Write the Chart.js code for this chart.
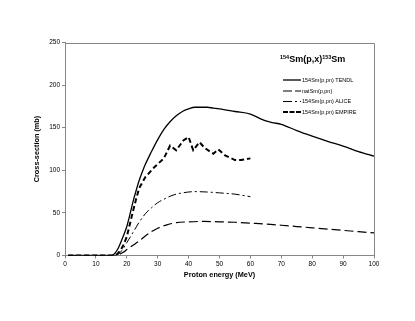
<!DOCTYPE html>
<html>
<head>
<meta charset="utf-8">
<script src="https://cdn.jsdelivr.net/npm/chart.js@4.4.1/dist/chart.umd.min.js"></script>
<style>
  html, body { margin: 0; padding: 0; background: #fff; }
  #c { display: block; }
</style>
</head>
<body>
<canvas id="c" width="415" height="321"></canvas>
<script>
// series (energy in MeV, cross-section in mb)
const tendlE = [1, 5, 10, 15, 16, 17, 18, 19, 20, 21, 22, 23, 24, 25, 26, 28, 30, 32, 34, 36, 38, 40, 42, 44, 46, 48, 50, 55, 60, 63, 65, 67, 70, 75, 80, 85, 90, 95, 100];
const tendlV = [0, 0, 0, 0, 2, 7, 15, 24, 34, 48, 63, 76, 88, 98, 107, 122, 136, 148, 157, 164, 169, 172, 174, 174, 174, 173, 172, 169, 166, 161, 158, 156, 154, 146.5, 140, 134, 128.5, 122, 116.5];

const natE = [1, 5, 10, 15, 16, 17, 18, 19, 20, 22, 24, 26, 28, 30, 33, 36, 40, 45, 50, 55, 60, 65, 70, 75, 80, 85, 90, 95, 100];
const natV = [0, 0, 0, 0, 0, 0.5, 2, 4, 7, 12, 17, 23, 28, 32, 36, 38.5, 39.5, 40, 39.5, 39, 38, 37, 35.5, 34, 32.5, 31, 29.5, 28, 26.5];

const aliceE = [1, 5, 10, 15, 16, 17, 18, 19, 20, 22, 24, 26, 28, 30, 32, 34, 36, 38, 42, 46, 50, 55, 60];
const aliceV = [0, 0, 0, 0, 0, 1, 4, 9, 15, 27, 39, 49, 56, 62, 66, 69.5, 72, 73.5, 75, 74.5, 73.5, 72, 69];

const empireE = [1, 5, 10, 15, 16, 17, 18, 19, 20, 21, 22, 23, 24, 26, 28, 29, 32, 34, 36, 38.3, 40, 41.5, 43.5, 45.3, 48, 49.6, 51.8, 55, 57, 60];
const empireV = [0, 0, 0, 0, 0, 2, 6, 13, 22, 37, 52, 66, 79, 92, 100, 104, 114, 129, 123.5, 135, 139, 123.5, 133, 126, 119.5, 124.5, 117.5, 112, 112, 114];

const seriesNames = ['154Sm(p,pn) TENDL', 'natSm(p,pn)', '154Sm(p,pn) ALICE', '154Sm(p,pn) EMPIRE'];
const xTicks = [0, 10, 20, 30, 40, 50, 60, 70, 80, 90, 100];
const yTicks = [0, 50, 100, 150, 200, 250];

function pts(xs, ys) {
    return xs.map((x, i) => ({ x: x, y: ys[i] }));
}

const FONT = "'Liberation Sans', Arial, sans-serif";
const AXIS = '#868686';

const extras = {
    id: 'extras',
    afterDraw(chart) {
        const ctx = chart.ctx;
        const a = chart.chartArea;
        ctx.save();
        // top and right frame
        ctx.strokeStyle = AXIS;
        ctx.lineWidth = 1;
        ctx.beginPath();
        ctx.moveTo(Math.round(a.left) + 0.5, Math.round(a.top) + 0.5);
        ctx.lineTo(Math.round(a.right) + 0.5, Math.round(a.top) + 0.5);
        ctx.lineTo(Math.round(a.right) + 0.5, Math.round(a.bottom) + 0.5);
        ctx.stroke();

        // title with superscripts
        ctx.fillStyle = '#000';
        ctx.textBaseline = 'alphabetic';
        let x = 280, y = 62;
        const parts = [['154', true], ['Sm(p,x)', false], ['153', true], ['Sm', false]];
        parts.forEach(([t, sup]) => {
            ctx.font = sup ? 'bold 5.5px ' + FONT : 'bold 9px ' + FONT;
            ctx.fillText(t, x, sup ? y - 3.5 : y);
            x += ctx.measureText(t).width;
        });

        // legend
        const rows = [80, 91, 101.5, 112];
        chart.data.datasets.forEach((ds, i) => {
            const ly = rows[i];
            ctx.strokeStyle = ds.borderColor;
            ctx.lineWidth = ds.borderWidth;
            ctx.setLineDash(ds.legendDash || ds.borderDash || []);
            ctx.beginPath();
            ctx.moveTo(283, ly);
            ctx.lineTo(301, ly);
            ctx.stroke();
            ctx.setLineDash([]);
            ctx.font = '5.5px ' + FONT;
            ctx.textBaseline = 'middle';
            ctx.fillText(ds.label, 302, ly);
        });
        ctx.restore();
    }
};

new Chart(document.getElementById('c'), {
    type: 'line',
    data: {
        datasets: [
            {
                label: seriesNames[0],
                data: pts(tendlE, tendlV),
                borderColor: '#000',
                borderWidth: 1.3,
                cubicInterpolationMode: 'monotone'
            },
            {
                label: seriesNames[1],
                data: pts(natE, natV),
                borderColor: '#000',
                borderWidth: 1.2,
                borderDash: [9, 4],
                legendDash: [9, 3],
                cubicInterpolationMode: 'monotone'
            },
            {
                label: seriesNames[2],
                data: pts(aliceE, aliceV),
                borderColor: '#000',
                borderWidth: 1,
                borderDash: [8, 3, 2, 3],
                legendDash: [9, 3, 2, 3],
                cubicInterpolationMode: 'monotone'
            },
            {
                label: seriesNames[3],
                data: pts(empireE, empireV),
                borderColor: '#000',
                borderWidth: 2,
                borderDash: [5, 3],
                legendDash: [5, 1.5],
                tension: 0
            }
        ]
    },
    options: {
        responsive: false,
        animation: false,
        devicePixelRatio: 1,
        elements: { point: { radius: 0, hoverRadius: 0 } },
        layout: { padding: { left: 0, right: 41, top: 42.5, bottom: 0 } },
        plugins: {
            legend: { display: false },
            tooltip: { enabled: false }
        },
        scales: {
            x: {
                type: 'linear',
                min: 0,
                max: 100,
                afterFit: s => { s.height = 65.5; },
                afterBuildTicks: s => { s.ticks = xTicks.map(v => ({ value: v })); },
                grid: { drawOnChartArea: false, drawTicks: true, tickLength: 3, color: AXIS },
                border: { color: AXIS },
                ticks: {
                    color: '#000',
                    padding: 2,
                    maxRotation: 0,
                    font: { family: FONT, size: 6.5 }
                },
                title: {
                    display: true,
                    text: 'Proton energy (MeV)',
                    color: '#000',
                    padding: { top: 0, bottom: 42 },
                    font: { family: FONT, size: 7.3, weight: 'bold' }
                }
            },
            y: {
                min: 0,
                max: 250,
                afterFit: s => { s.width = 65; },
                afterBuildTicks: s => { s.ticks = yTicks.map(v => ({ value: v })); },
                grid: { drawOnChartArea: false, drawTicks: true, tickLength: 3, color: AXIS },
                border: { color: AXIS },
                ticks: {
                    color: '#000',
                    padding: 2,
                    font: { family: FONT, size: 6.5 }
                },
                title: {
                    display: true,
                    text: 'Cross-section (mb)',
                    color: '#000',
                    padding: { top: 33, bottom: 0 },
                    font: { family: FONT, size: 7.3, weight: 'bold' }
                }
            }
        }
    },
    plugins: [extras]
});
</script>
</body>
</html>
